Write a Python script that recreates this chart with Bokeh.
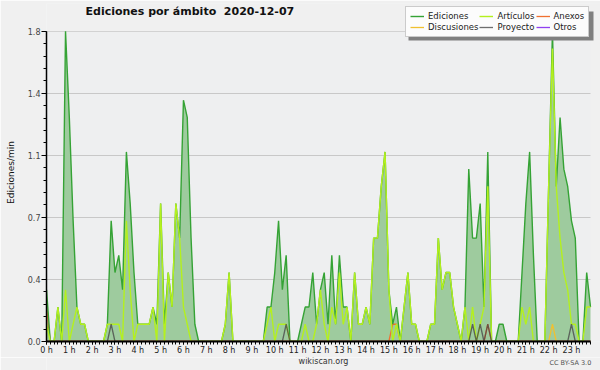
import numpy as np
from bokeh.plotting import figure
from bokeh.layouts import column
from bokeh.models import (Range1d, FixedTicker, Legend, LegendItem, Label,
                          BoxAnnotation, ColumnDataSource)
from bokeh.embed import file_html
from bokeh.resources import INLINE

# ---------------- data (10-minute slots, edits per minute) ----------------
title_text = "Ediciones por ámbito\u00a0 2020-12-07"
hour_labels = ["0 h", "1 h", "2 h", "3 h", "4 h", "5 h", "6 h", "7 h", "8 h", "9 h",
               "10 h", "11 h", "12 h", "13 h", "14 h", "15 h", "16 h", "17 h", "18 h",
               "19 h", "20 h", "21 h", "22 h", "23 h"]
y_tick_values = [0.0, 0.36, 0.72, 1.08, 1.44, 1.8]
y_tick_labels = ["0.0", "0.4", "0.7", "1.1", "1.4", "1.8"]

ediciones = [
    0.3, 0, 0, 0.2, 0, 1.8, 1.3, 0.7, 0.2, 0.1,
    0.1, 0, 0, 0, 0, 0, 0.1, 0.7, 0.4, 0.5,
    0.3, 1.1, 0.8, 0.4, 0.1, 0.1, 0.1, 0.1, 0.2, 0.1,
    0.8, 0.1, 0.4, 0.2, 0.8, 0.6, 1.4, 1.3, 0.6, 0.1,
    0, 0, 0, 0, 0, 0, 0, 0.1, 0.4, 0,
    0, 0, 0, 0, 0, 0, 0, 0, 0.2, 0.2,
    0.4, 0.7, 0.3, 0.5, 0, 0, 0, 0.1, 0.2, 0.2,
    0.4, 0.1, 0.3, 0.4, 0.1, 0.5, 0.1, 0.5, 0.2, 0.2,
    0, 0.4, 0.1, 0.1, 0.2, 0.1, 0.6, 0.6, 0.9, 1.1,
    0.3, 0.1, 0.2, 0, 0.2, 0.4, 0.1, 0.1, 0, 0,
    0, 0.1, 0.1, 0.6, 0.3, 0.4, 0.4, 0.2, 0.1, 0,
    0.2, 1.0, 0.6, 0.6, 0.8, 0.2, 1.1, 0, 0, 0.1,
    0.1, 0, 0, 0, 0, 0.4, 0.8, 1.1, 0.5, 0,
    0, 0, 0.9, 1.8, 0.9, 1.3, 1.0, 0.9, 0.7, 0.6,
    0, 0, 0.4, 0.2,
]
articulos = [
    0.1, 0, 0, 0.2, 0, 0.3, 0, 0.1, 0.2, 0.1,
    0.1, 0, 0, 0, 0, 0, 0.1, 0.1, 0.1, 0.1,
    0, 0.7, 0.3, 0, 0.1, 0.1, 0.1, 0.1, 0.2, 0,
    0.8, 0, 0.4, 0.2, 0.8, 0.6, 0.2, 0.1, 0, 0,
    0, 0, 0, 0, 0, 0, 0, 0.1, 0.4, 0,
    0, 0, 0, 0, 0, 0, 0, 0, 0.1, 0.2,
    0, 0.1, 0.1, 0.1, 0, 0, 0, 0, 0.1, 0,
    0, 0.1, 0.3, 0.1, 0, 0.2, 0.1, 0.4, 0.1, 0.2,
    0, 0.4, 0.1, 0.1, 0.2, 0.1, 0.6, 0.6, 0.9, 1.1,
    0.3, 0, 0.1, 0, 0.2, 0.4, 0.1, 0.1, 0, 0,
    0, 0.1, 0.1, 0.6, 0.3, 0.4, 0.4, 0.2, 0.1, 0,
    0.2, 0, 0.2, 0, 0.1, 0.2, 0.9, 0, 0, 0,
    0, 0, 0, 0, 0, 0.2, 0.1, 0.2, 0, 0,
    0, 0, 0.9, 1.7, 0.9, 0.6, 0.4, 0.3, 0.1, 0.1,
    0, 0, 0.2, 0.2,
]
# sparse series: slot -> value (all other slots are 0)
anexos_nonzero = {0: 0.2, 91: 0.1, 92: 0.1, 116: 0.1}
discusiones_nonzero = {133: 0.1}
proyecto_nonzero = {17: 0.1, 63: 0.1, 112: 0.1, 114: 0.1, 116: 0.1, 138: 0.1}
otros_nonzero = {}

n_slots = len(ediciones)
slots = list(range(n_slots))
anexos = [anexos_nonzero.get(i, 0) for i in slots]
discusiones = [discusiones_nonzero.get(i, 0) for i in slots]
proyecto = [proyecto_nonzero.get(i, 0) for i in slots]
otros = [otros_nonzero.get(i, 0) for i in slots]
y_max = max(y_tick_values)

# ---------------- layout (pixels) ----------------
W = 600
H_MAIN, H_FOOT = 357, 13
FRAME_L, FRAME_R = 46, 600          # frame extends to the right edge
DATA_R = 590                        # last slot drawn here
FRAME_T, FRAME_B = 3, 344           # frame spans to near the top
YMAX_PX = 31                        # where y_max sits
x_end = (n_slots - 1) * (FRAME_R - FRAME_L) / (DATA_R - FRAME_L)
y_end = y_max * (FRAME_B - FRAME_T) / (FRAME_B - YMAX_PX)

BG_OUT = "#f0f0f0"
BG_PLOT = "#eeeff0"

p = figure(width=W, height=H_MAIN, output_backend="svg", toolbar_location=None,
           x_range=Range1d(0, x_end), y_range=Range1d(0, y_end),
           min_border_left=FRAME_L, min_border_right=W - FRAME_R,
           min_border_top=FRAME_T, min_border_bottom=H_MAIN - FRAME_B)
p.background_fill_color = BG_PLOT
p.border_fill_color = BG_OUT
p.outline_line_color = None

# areas of the frame outside the real plot area get the outer colour
p.add_layout(BoxAnnotation(bottom=y_max, fill_color=BG_OUT, fill_alpha=1,
                           line_color=None, level="underlay"))
p.add_layout(BoxAnnotation(left=n_slots - 1, fill_color=BG_OUT, fill_alpha=1,
                           line_color=None, level="underlay"))

src = ColumnDataSource(dict(x=slots, ed=ediciones, ar=articulos, an=anexos,
                            di=discusiones, pr=proyecto, ot=otros,
                            base=[0] * n_slots))

p.varea(x="x", y1="base", y2="ed", source=src, fill_color="#9ecb9e", fill_alpha=1)
r_ot = p.line("x", "ot", source=src, line_color="#9040f0", line_width=1.3)
r_an = p.line("x", "an", source=src, line_color="#f07030", line_width=1.3)
r_di = p.line("x", "di", source=src, line_color="#f0c030", line_width=1.3)
r_ed = p.line("x", "ed", source=src, line_color="#35a335", line_width=1.4)
r_ar = p.line("x", "ar", source=src, line_color="#b4f01e", line_width=1.4)
r_pr = p.line("x", "pr", source=src, line_color="#4a4a4a", line_width=1.3, line_alpha=0.8)

# grid
p.xgrid.grid_line_color = None
p.ygrid.grid_line_color = "#c8c8c8"
p.ygrid.grid_line_width = 1

# x axis
xa = p.xaxis[0]
xa.ticker = FixedTicker(ticks=list(range(0, n_slots, 6)), minor_ticks=slots)
xa.major_label_overrides = {6 * h: lab for h, lab in enumerate(hour_labels)}
xa.bounds = (0, n_slots - 1)
xa.axis_line_color = "black"
xa.axis_line_width = 2
xa.major_tick_line_color = "black"
xa.minor_tick_line_color = "black"
xa.major_tick_out = 3
xa.major_tick_in = 0
xa.minor_tick_out = 3
xa.minor_tick_in = 0
xa.major_label_standoff = 1
xa.major_label_text_font = "DejaVu Sans"
xa.major_label_text_font_size = "8px"
xa.major_label_text_color = "#222222"

# y axis
ya = p.yaxis[0]
ya.ticker = FixedTicker(ticks=y_tick_values,
                        minor_ticks=list(np.round(np.arange(0, y_max + 1e-6, y_max / 25), 4)))
ya.major_label_overrides = {v: lab for v, lab in zip(y_tick_values, y_tick_labels)}
ya.bounds = (0, y_max)
ya.axis_line_color = "black"
ya.axis_line_width = 1.5
ya.major_tick_out = 5
ya.major_tick_in = 0
ya.minor_tick_out = 3
ya.minor_tick_in = 0
ya.major_label_standoff = 1
ya.major_label_text_font = "DejaVu Sans"
ya.major_label_text_font_size = "8px"
ya.major_label_text_color = "#444444"
ya.axis_label = "Ediciones/min"
ya.axis_label_text_font = "DejaVu Sans"
ya.axis_label_text_font_size = "9px"
ya.axis_label_text_font_style = "normal"
ya.axis_label_text_color = "#111111"
ya.axis_label_standoff = 9

# title (inside the extended frame; screen units relative to the frame)
p.add_layout(Label(x=85 - FRAME_L, y=FRAME_B - 14, x_units="screen", y_units="screen",
                   text=title_text, text_font="DejaVu Sans", text_font_size="11px",
                   text_font_style="bold", text_color="#111111", text_baseline="middle"))

# legend with shadow
LEG_L, LEG_B, LEG_W, LEG_H = 405, 40, 185, 29
p.add_layout(BoxAnnotation(left=LEG_L - FRAME_L + 3, right=LEG_L - FRAME_L + LEG_W + 3,
                           bottom=FRAME_B - LEG_B - 3, top=FRAME_B - LEG_B + LEG_H - 3,
                           left_units="screen", right_units="screen",
                           bottom_units="screen", top_units="screen",
                           fill_color="#808080", fill_alpha=1, line_color=None))

legend = Legend(items=[
    LegendItem(label="Ediciones", renderers=[r_ed]),
    LegendItem(label="Discusiones", renderers=[r_di]),
    LegendItem(label="Artículos", renderers=[r_ar]),
    LegendItem(label="Proyecto", renderers=[r_pr]),
    LegendItem(label="Anexos", renderers=[r_an]),
    LegendItem(label="Otros", renderers=[r_ot]),
], ncols=3, location=(LEG_L - FRAME_L, FRAME_B - LEG_B))
legend.glyph_width = 14
legend.glyph_height = 8
legend.label_height = 8
legend.label_standoff = 4
legend.spacing = 1
legend.padding = 4
legend.margin = 0
legend.label_text_font = "DejaVu Sans"
legend.label_text_font_size = "8.5px"
legend.label_text_color = "#222222"
legend.border_line_color = "#999999"
legend.background_fill_color = "#fcfcfc"
legend.background_fill_alpha = 1
p.add_layout(legend)

# footer strip
foot = figure(width=W, height=H_FOOT, output_backend="svg", toolbar_location=None,
              x_range=Range1d(0, W), y_range=Range1d(0, H_FOOT),
              x_axis_type=None, y_axis_type=None, min_border=0)
foot.background_fill_color = BG_OUT
foot.border_fill_color = BG_OUT
foot.outline_line_color = None
foot.xgrid.visible = False
foot.ygrid.visible = False
foot.add_layout(Label(x=W / 2, y=H_MAIN + H_FOOT - 361, text="wikiscan.org",
                      text_font="DejaVu Sans", text_font_size="8px", text_color="#333333",
                      text_align="center", text_baseline="middle"))
foot.add_layout(Label(x=590, y=H_MAIN + H_FOOT - 362, text="CC BY-SA 3.0",
                      text_font="DejaVu Sans", text_font_size="6.5px", text_color="#555555",
                      text_align="right", text_baseline="middle"))

layout = column(p, foot, spacing=0)
open("out.html", "w").write(file_html(layout, INLINE))
